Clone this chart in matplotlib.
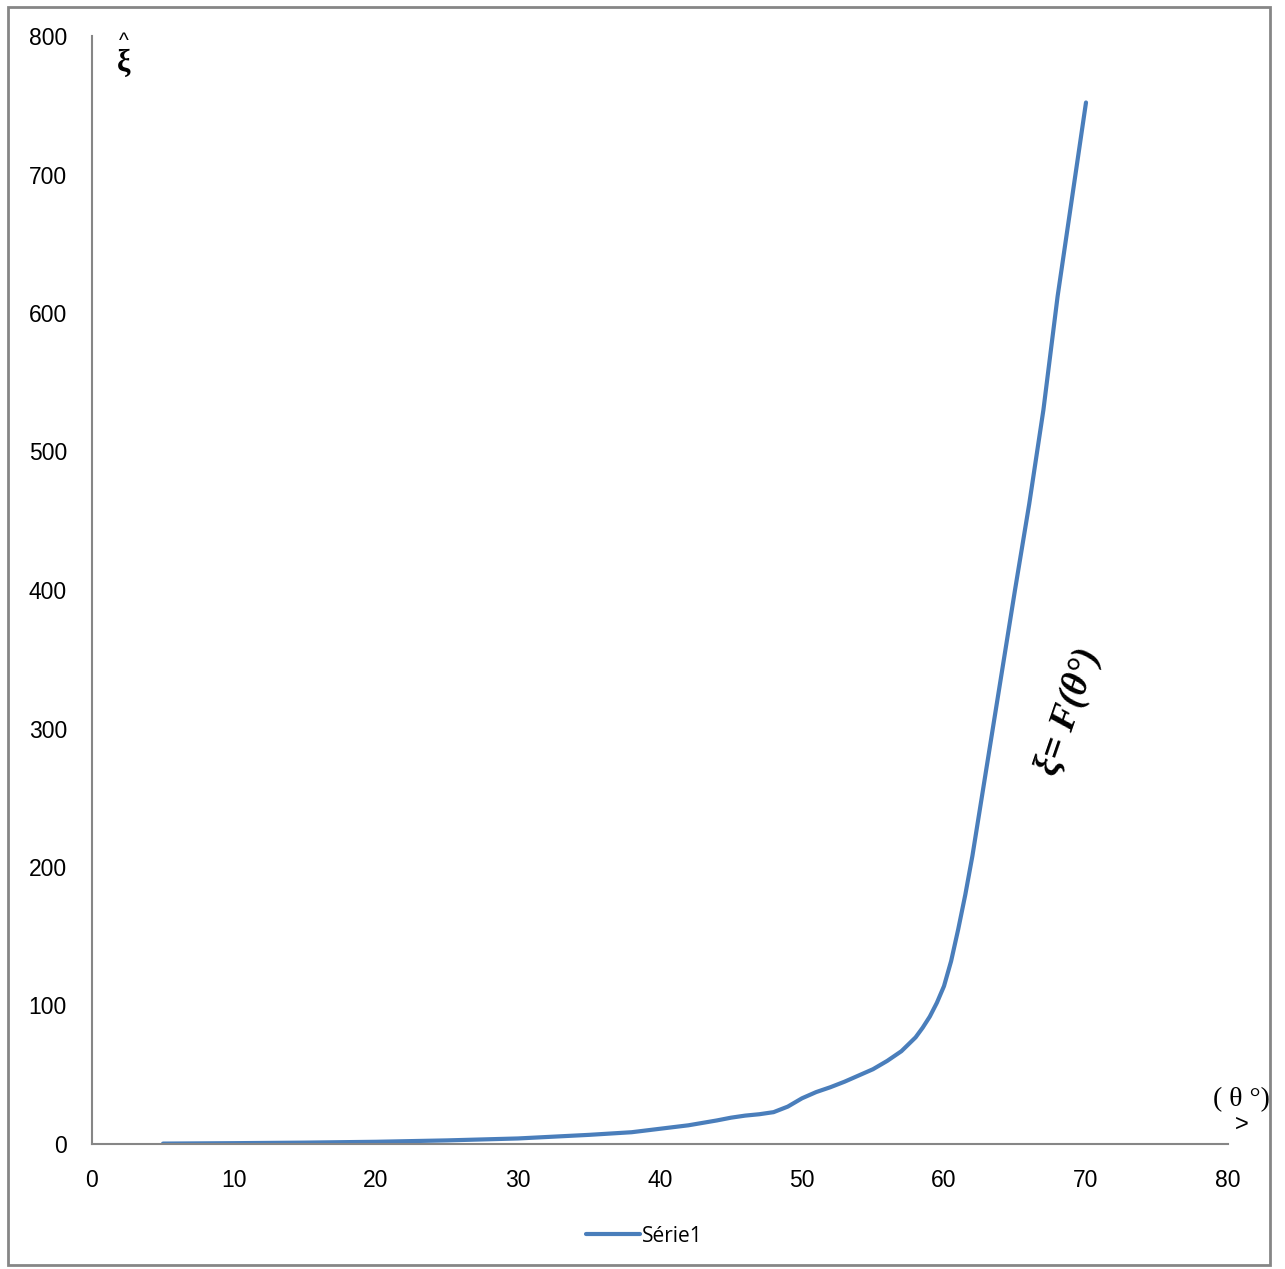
import matplotlib
matplotlib.use("Agg")
import matplotlib.pyplot as plt
from matplotlib.patches import Rectangle

theta = [5, 10, 15, 20, 25, 30, 35, 38, 40, 42, 44, 45, 46, 47, 48, 49, 50,
         51, 52, 53, 54, 55, 56, 57, 58, 58.5, 59, 59.5, 60, 60.5, 61, 61.5,
         62, 62.5, 63, 64, 65, 66, 67, 68, 69, 70]
xi = [0.3, 0.6, 1.0, 1.6, 2.6, 4.0, 6.6, 8.5, 11, 13.5, 17, 19, 20.5, 21.5,
      23, 27, 33, 37.5, 41, 45, 49.5, 54, 60, 67, 77, 84, 92, 102, 114, 132,
      155, 180, 208, 240, 272, 336, 400, 462, 530, 612, 682, 752]
series_name = "Série1"
xticks = [0, 10, 20, 30, 40, 50, 60, 70, 80]
yticks = [0, 100, 200, 300, 400, 500, 600, 700, 800]

W, H = 1285, 1269
fig = plt.figure(figsize=(W / 100, H / 100), dpi=100)
ax = fig.add_axes([92 / W, 1 - 1144 / H, (1228 - 92) / W, (1144 - 36) / H])

line_color = "#4A7EBB"
ax.plot(theta, xi, color=line_color, lw=3.0, solid_capstyle="round",
        solid_joinstyle="round", label=series_name)

ax.set_xlim(0, 80)
ax.set_ylim(0, 800)
ax.set_xticks(xticks)
ax.set_yticks(yticks)
for s in ["top", "right"]:
    ax.spines[s].set_visible(False)
for s in ["left", "bottom"]:
    ax.spines[s].set_color("#868686")
    ax.spines[s].set_linewidth(1.5)
ax.tick_params(length=0, labelsize=16.5, pad=18)
for lab in ax.get_xticklabels() + ax.get_yticklabels():
    lab.set_family("Liberation Sans")

# axis labels
serif = "Liberation Serif"
fig.text(124 / W, 1 - 41 / H, "^", fontsize=15, family="Liberation Sans",
         ha="center", va="center")
fig.text(124 / W, 1 - 63 / H, "ξ", fontsize=22, family=serif,
         fontweight="bold", ha="center", va="center")
fig.text(1241 / W, 1 - 1100 / H, "( θ °)", fontsize=20, family=serif,
         ha="center", va="center")
fig.text(1242 / W, 1 - 1125 / H, ">", fontsize=17, family="Liberation Sans",
         ha="center", va="center")

# curve annotation
fig.text(1069 / W, 1 - 712 / H, "ξ= F(θ°)", fontsize=27, family=serif,
         fontweight="bold", fontstyle="italic", rotation=71,
         ha="center", va="center")

# legend
leg = fig.legend(loc="center", bbox_to_anchor=(644 / W, 1 - 1236 / H),
                 frameon=False, fontsize=15, handlelength=2.6,
                 handletextpad=0.1)
for t in leg.get_texts():
    t.set_family("Open Sans")

# outer border
fig.patches.append(Rectangle((8 / W, 1 - 1265 / H), (1270 - 8) / W,
                             (1265 - 7) / H, transform=fig.transFigure,
                             fill=False, edgecolor="#868686", lw=2))

fig.savefig("out.png", dpi=100)
